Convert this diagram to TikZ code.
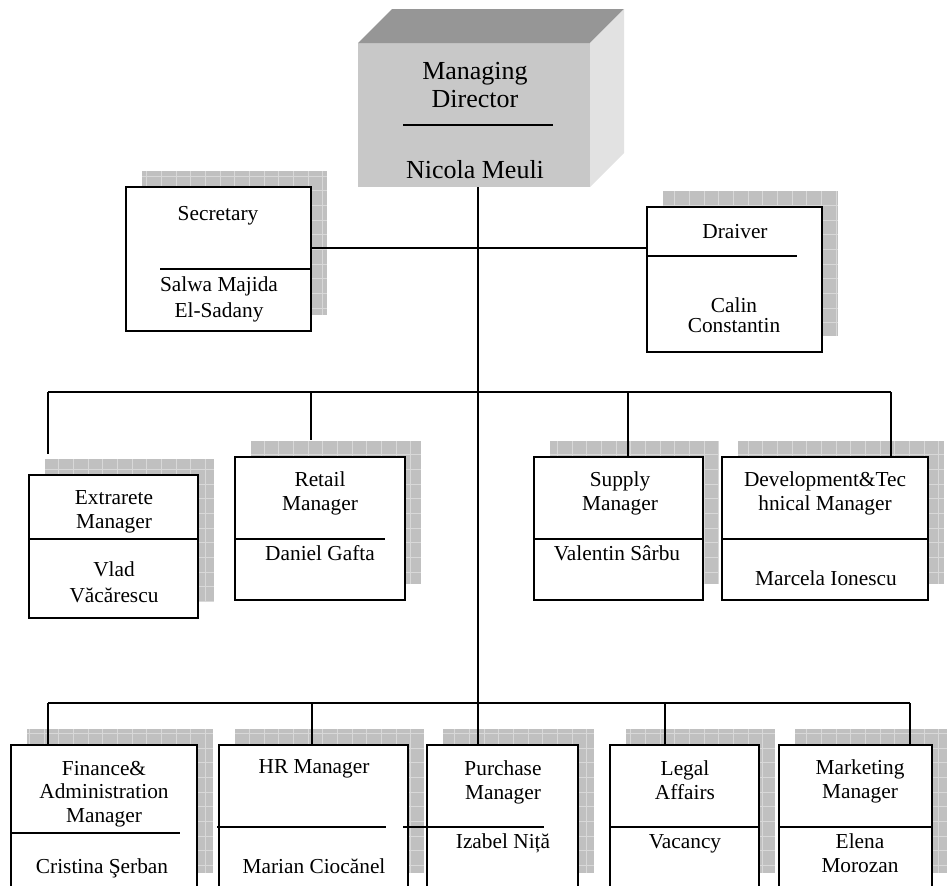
\documentclass[tikz,border=0pt]{standalone}
\usepackage{fontspec}
\setmainfont{Liberation Serif}
\usetikzlibrary{calc,fit,backgrounds}
\definecolor{FaceFront}{RGB}{200,200,200}
\definecolor{FaceTop}{RGB}{150,150,150}
\definecolor{FaceSide}{RGB}{226,226,226}
\definecolor{ShadowFill}{RGB}{192,192,192}
\definecolor{ShadowGrid}{RGB}{216,216,216}
\tikzset{
  unitbox/.style={draw=black,fill=white,line width=0.9pt,inner sep=0pt,outer sep=0pt},
  headbox/.style={fill=FaceFront,inner sep=0pt,outer sep=0pt},
  roletext/.style={font=\fontsize{16}{17.3}\selectfont,align=center,anchor=base,inner sep=0pt},
  headtext/.style={font=\fontsize{19.5}{20.3}\selectfont,align=center,anchor=base,inner sep=0pt},
  link/.style={draw=black,line width=0.8pt},
  rule/.style={draw=black,line width=0.8pt},
  shadowbox/.style={fill=ShadowFill},
  shadowgrid/.style={draw=ShadowGrid,line width=0.5pt}
}

\begin{document}
\begin{tikzpicture}[x=0.75pt,y=-0.75pt]
  \useasboundingbox (0,0) rectangle (947,886);
  \clip (0,0) rectangle (947,886);

  % managing director
  \node[headbox,fit={(358,43) (590,187)}] (dir) {};
  \fill[FaceTop] (dir.north west) -- ($(dir.north west)+(34,-34)$) -- ($(dir.north east)+(34,-34)$) -- (dir.north east) -- cycle;
  \fill[FaceSide] (dir.north east) -- ($(dir.north east)+(34,-34)$) -- ($(dir.south east)+(34,-34)$) -- (dir.south east) -- cycle;
  \node[headtext] (dir-role) at (475,107) {Managing\\Director};
  \draw[rule] (403,125) -- (553,125);
  \node[headtext] (dir-name) at (475,178) {Nicola Meuli};

  % staff
  \node[unitbox,fit={(126,187) (311,331)}] (sec) {};
  \node[roletext] (sec-role) at (218,220) {Secretary};
  \draw[rule] (160,269) -- (311,269);
  \node[roletext,font=\fontsize{16}{18.8}\selectfont] (sec-name) at (219,317) {Salwa Majida\\El-Sadany};

  \node[unitbox,fit={(647,207) (822,352)}] (drv) {};
  \node[roletext] (drv-role) at (735,238) {Draiver};
  \draw[rule] (647,256) -- (797,256);
  \node[roletext,font=\fontsize{16}{15}\selectfont] (drv-name) at (734,332) {Calin\\Constantin};

  % middle row
  \node[unitbox,fit={(29,475) (198,618)}] (ext) {};
  \node[roletext] (ext-role) at (114,528) {Extrarete\\Manager};
  \draw[rule] (29,539) -- (198,539);
  \node[roletext,font=\fontsize{16}{18.8}\selectfont] (ext-name) at (114,602) {Vlad\\Văcărescu};

  \node[unitbox,fit={(235,457) (405,600)}] (ret) {};
  \node[roletext] (ret-role) at (320,510) {Retail\\Manager};
  \draw[rule] (235,539) -- (385,539);
  \node[roletext] (ret-name) at (320,560) {Daniel Gafta};

  \node[unitbox,fit={(534,457) (703,600)}] (sup) {};
  \node[roletext] (sup-role) at (620,510) {Supply\\Manager};
  \draw[rule] (534,539) -- (703,539);
  \node[roletext] (sup-name) at (617,560) {Valentin Sârbu};

  \node[unitbox,fit={(722,457) (928,600)}] (dev) {};
  \node[roletext] (dev-role) at (825,510) {Development\&Tec\\hnical Manager};
  \draw[rule] (722,539) -- (928,539);
  \node[roletext] (dev-name) at (826,585) {Marcela Ionescu};

  % bottom row
  \node[unitbox,fit={(11,745) (197,889)}] (fin) {};
  \node[roletext] (fin-role) at (104,822) {Finance\&\\Administration\\Manager};
  \draw[rule] (11,833) -- (180,833);
  \node[roletext] (fin-name) at (102,873) {Cristina Şerban};

  \node[unitbox,fit={(219,745) (408,889)}] (hr) {};
  \node[roletext] (hr-role) at (314,773) {HR Manager};
  \draw[rule] (217,827) -- (386,827);
  \node[roletext] (hr-name) at (314,873) {Marian Ciocănel};

  \node[unitbox,fit={(427,745) (578,889)}] (pur) {};
  \node[roletext] (pur-role) at (503,799) {Purchase\\Manager};
  \draw[rule] (403,827) -- (544,827);
  \node[roletext] (pur-name) at (503,848) {Izabel Niță};

  \node[unitbox,fit={(610,745) (759,889)}] (leg) {};
  \node[roletext] (leg-role) at (685,799) {Legal\\Affairs};
  \draw[rule] (610,827) -- (759,827);
  \node[roletext] (leg-name) at (685,848) {Vacancy};

  \node[unitbox,fit={(779,745) (932,889)}] (mkt) {};
  \node[roletext] (mkt-role) at (860,798) {Marketing\\Manager};
  \draw[rule] (779,827) -- (932,827);
  \node[roletext] (mkt-name) at (860,872) {Elena\\Morozan};

  % grid shadows behind the boxes
  \begin{scope}[on background layer]
    \foreach \b in {sec,drv,ext,ret,sup,dev,fin,hr,pur,leg,mkt}{
      \fill[shadowbox] ($(\b.south west)+(16,-16)$) rectangle ($(\b.north east)+(16,-16)$);
      \draw[shadowgrid,step=11pt] ($(\b.south west)+(16,-16)$) grid ($(\b.north east)+(16,-16)$);
    }
  \end{scope}

  % connectors
  \coordinate (staffbus) at (478,248);
  \coordinate (midL) at (48,392);
  \coordinate (midR) at (891,392);
  \coordinate (retdrop) at (311,392);
  \coordinate (supdrop) at (628,392);
  \coordinate (lowL) at (48,703);
  \coordinate (lowR) at (910,703);
  \coordinate (hrdrop) at (312,703);
  \coordinate (legdrop) at (665,703);
  \coordinate (ext-top) at ($(ext.north)+(0,-21)$);
  \coordinate (ret-top) at ($(ret.north)+(0,-17)$);

  \draw[link] (dir.south -| staffbus) -- (pur.north -| staffbus);
  \draw[link] (sec.east |- staffbus) -- (drv.west |- staffbus);
  \draw[link] (midL) -- (midR);
  \draw[link] (midL) -- (midL |- ext-top);
  \draw[link] (retdrop) -- (retdrop |- ret-top);
  \draw[link] (supdrop) -- (supdrop |- sup.north);
  \draw[link] (midR) -- (midR |- dev.north);
  \draw[link] (lowL) -- (lowR);
  \draw[link] (lowL) -- (lowL |- fin.north);
  \draw[link] (hrdrop) -- (hrdrop |- hr.north);
  \draw[link] (legdrop) -- (legdrop |- leg.north);
  \draw[link] (lowR) -- (lowR |- mkt.north);
\end{tikzpicture}
\end{document}
